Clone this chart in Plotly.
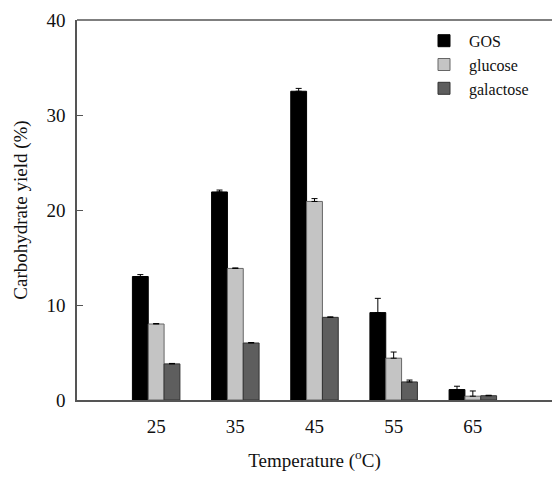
import plotly.graph_objects as go

temps = [25, 35, 45, 55, 65]
gos = [13.0, 21.9, 32.5, 9.2, 1.1]
gos_err = [0.2, 0.2, 0.3, 1.5, 0.35]
glucose = [8.0, 13.85, 20.9, 4.4, 0.4]
glucose_err = [0.05, 0.05, 0.3, 0.65, 0.55]
galactose = [3.8, 6.0, 8.7, 1.9, 0.45]
galactose_err = [0.05, 0.05, 0.05, 0.2, 0.05]

series = [
    ("GOS", gos, gos_err, "#000000", "#000000"),
    ("glucose", glucose, glucose_err, "#c4c4c4", "#666666"),
    ("galactose", galactose, galactose_err, "#5e5e5e", "#333333"),
]

font = "Liberation Serif"
fig = go.Figure()
for name, vals, errs, fill, edge in series:
    fig.add_trace(go.Bar(
        x=temps, y=vals, name=name,
        marker=dict(color=fill, line=dict(color=edge, width=1)),
        error_y=dict(type="data", array=errs, arrayminus=[0] * len(errs),
                     symmetric=False, color="#000000", thickness=1, width=3),
    ))

fig.update_layout(
    width=552, height=482,
    margin=dict(l=77, r=0, t=20, b=82),
    paper_bgcolor="white", plot_bgcolor="white",
    barmode="group", bargap=0.4, bargroupgap=0,
    font=dict(family=font, color="#111111", size=19),
    showlegend=True,
    legend=dict(x=0.72, y=0.99, xanchor="left", yanchor="top",
                font=dict(family=font, size=16), bgcolor="rgba(0,0,0,0)",
                itemwidth=40, tracegroupgap=0),
    xaxis=dict(
        range=[15, 75], tickvals=temps, ticktext=[str(t) for t in temps],
        showline=True, linecolor="#555555", linewidth=1.5, mirror=False,
        ticks="", showgrid=False, zeroline=False, ticklabelstandoff=8,
        title=dict(text="Temperature (<sup>o</sup>C)", standoff=18,
                   font=dict(size=19)),
    ),
    yaxis=dict(
        range=[0, 40], tickvals=[0, 10, 20, 30, 40],
        showline=True, linecolor="#555555", linewidth=1.5,
        ticks="inside", ticklen=6, tickcolor="#555555",
        showgrid=False, zeroline=False, ticklabelstandoff=6,
        title=dict(text="Carbohydrate yield (%)", standoff=14,
                   font=dict(size=19)),
    ),
    shapes=[dict(type="line", xref="paper", yref="paper", x0=0, x1=1, y0=1, y1=1,
                 line=dict(color="#555555", width=1.5))],
)

fig.write_html("out.html")
